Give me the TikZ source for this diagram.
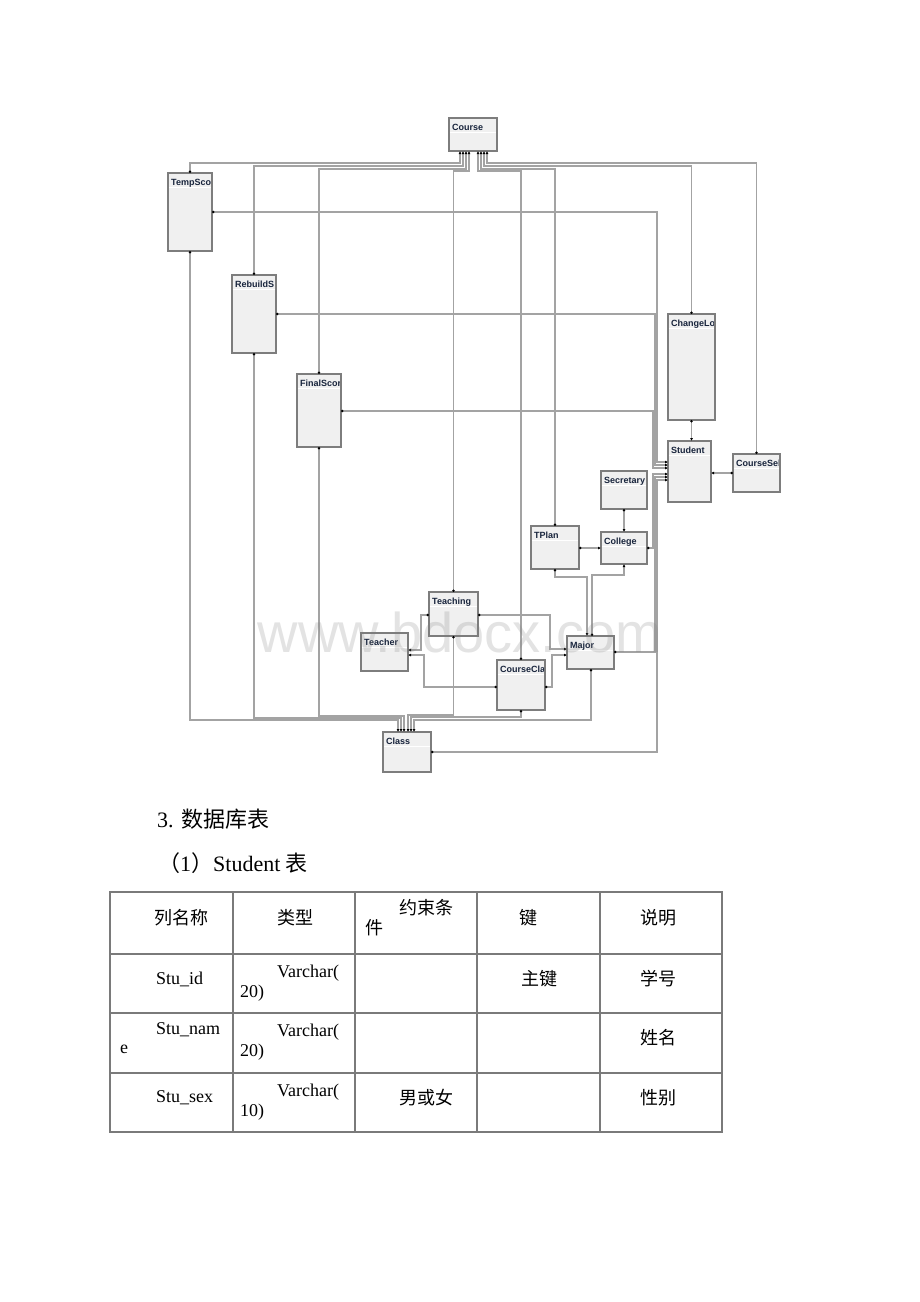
\documentclass[tikz,border=0pt]{standalone}
\usepackage{fontspec}
\setmainfont{Liberation Serif}
\newfontfamily\cjk{Noto Sans CJK SC}
\newfontfamily\boxfont{Liberation Sans}
\usetikzlibrary{arrows.meta,calc}
\definecolor{linegray}{HTML}{A3A3A3}
\definecolor{boxfill}{HTML}{F0F0F0}
\definecolor{boxborder}{HTML}{7D7D7D}
\definecolor{titlecol}{HTML}{18243C}
\definecolor{gridgray}{HTML}{7A7A7A}
\tikzset{
  tablebox/.style={draw=boxborder, fill=boxfill, line width=1.3pt, anchor=north west, inner sep=0pt, outer sep=0pt},
  tabletitle/.style={anchor=base west, inner sep=0pt, font=\boxfont\bfseries\fontsize{9}{10}\selectfont, text=titlecol},
  rel/.style={draw=linegray, line width=1.1pt, arrows={{Latex[length=3pt,width=3pt,color=black]}-{Circle[open,length=2.4pt,width=2.4pt,color=black]}}},
  cell/.style={anchor=base west, inner sep=0pt, font=\fontsize{18}{20}\selectfont},
  ccell/.style={anchor=base west, inner sep=0pt, font=\cjk\fontsize{18}{20}\selectfont},
}
\newcommand\mktable[6]{%
  \node[tablebox, minimum width={(#4)-(#2)}, minimum height={(#5)-(#3)}] (#1) at (#2,#3) {};
  \begin{scope}
    \clip (#1.north west) rectangle (#1.south east);
    \draw[white, line width=0.8pt] ([yshift=-14pt]#1.north west) -- ([yshift=-14pt]#1.north east);
    \node[tabletitle] (#1-t) at ([xshift=3pt,yshift=-12pt]#1.north west) {#6};
  \end{scope}
  \draw[draw=boxborder, line width=1.3pt] (#1.north west) rectangle (#1.south east);
}
\begin{document}
\begin{tikzpicture}[x=1pt,y=-1pt]
\useasboundingbox (0,0) rectangle (920,1302);
\fill[white] (0,0) rectangle (920,1302);

% ---------- tables of the diagram ----------
\mktable{course}{449}{118}{497}{151}{Course}
\mktable{tempscore}{168}{173}{212}{251}{TempSco}
\mktable{rebuild}{232}{275}{276}{353}{RebuildS}
\mktable{final}{297}{374}{341}{447}{FinalScor}
\mktable{changelo}{668}{314}{715}{420}{ChangeLo}
\mktable{student}{668}{441}{711}{502}{Student}
\mktable{coursesel}{733}{454}{780}{492}{CourseSel}
\mktable{secretary}{601}{471}{647}{509}{Secretary}
\mktable{tplan}{531}{526}{579}{569}{TPlan}
\mktable{college}{601}{532}{647}{564}{College}
\mktable{teaching}{429}{592}{478}{636}{Teaching}
\mktable{teacher}{361}{633}{408}{671}{Teacher}
\mktable{coursecla}{497}{660}{545}{710}{CourseCla}
\mktable{major}{567}{636}{614}{669}{Major}
\mktable{class}{383}{732}{431}{772}{Class}

% ---------- relationships ----------
% Course
\draw[rel] ([xshift=11pt]course.south west) -- ++(0,12) -| (tempscore.north);
\draw[rel] ([xshift=14pt]course.south west) -- ++(0,15) -| (rebuild.north);
\draw[rel] ([xshift=17pt]course.south west) -- ++(0,18) -| (final.north);
\draw[rel] ([xshift=20pt]course.south west) -- ++(0,20) -| (teaching.north);
\draw[rel] ([xshift=29pt]course.south west) -- ++(0,20) -| (coursecla.north);
\draw[rel] ([xshift=32pt]course.south west) -- ++(0,18) -| (tplan.north);
\draw[rel] ([xshift=35pt]course.south west) -- ++(0,15) -| (changelo.north);
\draw[rel] ([xshift=38pt]course.south west) -- ++(0,12) -| (coursesel.north);
% Student
\draw[rel] ([yshift=-21pt]student.north west) -- ++(-11,0) |- ([yshift=-39pt]tempscore.north east);
\draw[rel] ([yshift=-24pt]student.north west) -- ++(-13,0) |- ([yshift=-39pt]rebuild.north east);
\draw[rel] ([yshift=-27pt]student.north west) -- ++(-15,0) |- ([yshift=-37pt]final.north east);
\draw[rel] ([yshift=-33pt]student.north west) -- ++(-15,0) |- (college.east);
\draw[rel] ([yshift=-36pt]student.north west) -- ++(-13,0) |- ([yshift=-16pt]major.north east);
\draw[rel] ([yshift=-39pt]student.north west) -- ++(-11,0) |- ([yshift=-20pt]class.north east);
\draw[rel] (student.north -| changelo.south) -- (changelo.south);
\draw[rel] (student.east |- coursesel.west) -- (coursesel.west);
% College
\draw[rel] (college.north) -- (secretary.south);
\draw[rel] (college.west) -- (tplan.east |- college.west);
\draw[rel] (college.south) -- ++(0,11) -| ([xshift=25pt]major.north west);
% Major
\draw[rel] ([xshift=20pt]major.north west) -- ++(0,-59) -| (tplan.south);
\draw[rel] ([yshift=-13pt]major.north west) -- ++(-17,0) |- ([yshift=-23pt]teaching.north east);
\draw[rel] ([yshift=-19pt]major.north west) -- ++(-15,0) |- ([yshift=-27pt]coursecla.north east);
% Teacher
\draw[rel] ([yshift=-17pt]teacher.north east) -- ++(13,0) |- ([yshift=-23pt]teaching.north west);
\draw[rel] ([yshift=-22pt]teacher.north east) -- ++(16,0) |- ([yshift=-27pt]coursecla.north west);
% Class
\draw[rel] ([xshift=15pt]class.north west) -- ++(0,-12) -| (tempscore.south);
\draw[rel] ([xshift=18pt]class.north west) -- ++(0,-14) -| (rebuild.south);
\draw[rel] ([xshift=21pt]class.north west) -- ++(0,-16) -| (final.south);
\draw[rel] ([xshift=25pt]class.north west) -- ++(0,-17) -| (teaching.south);
\draw[rel] ([xshift=28pt]class.north west) -- ++(0,-15) -| (coursecla.south);
\draw[rel] ([xshift=31pt]class.north west) -- ++(0,-12) -| ([xshift=24pt]major.south west);

% ---------- watermark ----------
\node[anchor=base, inner sep=0pt, font=\boxfont\fontsize{56}{60}\selectfont, text=gray, opacity=0.22] (wm) at (460,652) {www.bdocx.com};

% ---------- headings ----------
\node[anchor=base west, inner sep=0pt, font=\fontsize{22}{26}\selectfont] (sec) at (157,827) {3. {\cjk 数据库表}};
\node[anchor=base west, inner sep=0pt, font=\fontsize{22}{26}\selectfont] (sub) at (158,871) {{\cjk （}1{\cjk ）}Student {\cjk 表}};

% ---------- Student table ----------
\draw[gridgray, line width=1.2pt] (110,892) rectangle (722,1132);
\foreach \yy in {954,1013,1073} \draw[gridgray, line width=1.2pt] (110,\yy) -- (722,\yy);
\foreach \xx in {233,355,477,600} \draw[gridgray, line width=1.2pt] (\xx,892) -- (\xx,1132);

\node[ccell] (h1) at (154,924) {列名称};
\node[ccell] (h2) at (277,924) {类型};
\node[ccell] (h3a) at (399,914) {约束条};
\node[ccell] (h3b) at (365,934) {件};
\node[ccell] (h4) at (519,924) {键};
\node[ccell] (h5) at (640,924) {说明};

\node[cell] (r1a) at (156,984) {Stu\_id};
\node[cell] (r1b) at (277,977) {Varchar(};
\node[cell] (r1c) at (240,997) {20)};
\node[ccell] (r1d) at (521,985) {主键};
\node[ccell] (r1e) at (640,985) {学号};

\node[cell] (r2a) at (156,1034) {Stu\_nam};
\node[cell] (r2a2) at (120,1053) {e};
\node[cell] (r2b) at (277,1036) {Varchar(};
\node[cell] (r2c) at (240,1056) {20)};
\node[ccell] (r2e) at (640,1044) {姓名};

\node[cell] (r3a) at (156,1102) {Stu\_sex};
\node[cell] (r3b) at (277,1096) {Varchar(};
\node[cell] (r3c) at (240,1116) {10)};
\node[ccell] (r3d) at (399,1104) {男或女};
\node[ccell] (r3e) at (640,1104) {性别};
\end{tikzpicture}
\end{document}
